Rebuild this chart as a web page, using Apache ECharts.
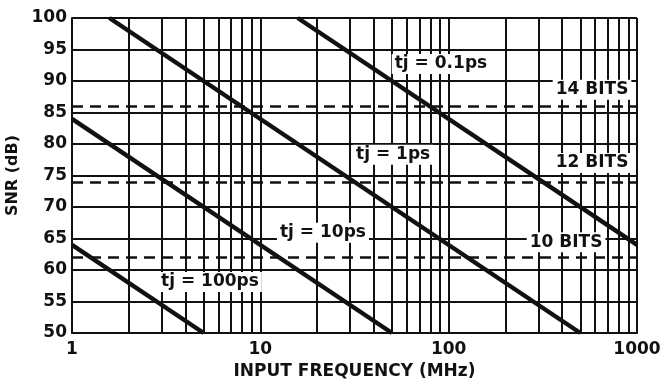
<!DOCTYPE html>
<html>
<head>
<meta charset="utf-8">
<script src="https://cdn.jsdelivr.net/npm/echarts@6/dist/echarts.min.js"></script>
<style>
  html, body { margin: 0; padding: 0; background: #fff; }
  #chart { width: 667px; height: 381px; }
</style>
</head>
<body>
<div id="chart"></div>
<script>
// Aperture-jitter SNR lines: [input frequency (MHz), SNR (dB)] end points
const jitter01ps = [[15.8, 100], [1000, 64]];
const jitter1ps = [[1.58, 100], [500, 50]];
const jitter10ps = [[1, 84], [50, 50]];
const jitter100ps = [[1, 64], [5, 50]];

// Ideal ADC resolution limits (dB)
const bitLevels = [86, 74, 62];

// Frequency axis tick labels, one per decade
const freqTickLabels = ['1', '10', '100', '1000'];

// Minor log grid positions (MHz)
const minorFreqs = [2, 3, 4, 5, 6, 7, 8, 9, 20, 30, 40, 50, 60, 70, 80, 90, 200, 300, 400, 500, 600, 700, 800, 900];

// Annotation texts and their anchor points [MHz, dB]
const noteTexts = ['tj = 0.1ps', 'tj = 1ps', 'tj = 10ps', 'tj = 100ps', '14 BITS', '12 BITS', '10 BITS'];
const noteFreqs = [91, 50.7, 21.5, 5.4, 577, 577, 420];
const noteSnrs = [92.7, 78.3, 65.9, 58.1, 88.6, 77.0, 64.4];

const FONT = 'DejaVu Sans';
const INK = '#111';

const chart = echarts.init(document.getElementById('chart'), null, { renderer: 'canvas' });

const thick = (data) => ({
  type: 'line',
  data: data,
  symbol: 'none',
  z: 5,
  lineStyle: { color: INK, width: 4.5 },
  silent: true
});

chart.setOption({
  animation: false,
  backgroundColor: '#fff',
  grid: { left: 72, right: 30, top: 18, bottom: 48, containLabel: false, outerBoundsMode: 'none' },
  xAxis: {
    type: 'log',
    logBase: 10,
    min: 1,
    max: 1000,
    name: 'INPUT FREQUENCY (MHz)',
    nameLocation: 'middle',
    nameGap: 27,
    nameTextStyle: { fontFamily: FONT, fontWeight: 'bold', fontSize: 17, color: INK },
    axisLine: { show: true, lineStyle: { color: INK, width: 2 } },
    axisTick: { show: false },
    axisLabel: {
      fontFamily: FONT, fontWeight: 'bold', fontSize: 17, color: INK, margin: 8,
      formatter: v => freqTickLabels[Math.round(Math.log10(v))]
    },
    splitLine: { show: true, lineStyle: { color: INK, width: 2 } },
    minorTick: { show: false },
    minorSplitLine: { show: false }
  },
  yAxis: {
    type: 'value',
    min: 50,
    max: 100,
    interval: 5,
    name: 'SNR (dB)',
    nameLocation: 'middle',
    nameGap: 50,
    nameTextStyle: { fontFamily: FONT, fontWeight: 'bold', fontSize: 16, color: INK },
    axisLine: { show: true, lineStyle: { color: INK, width: 2 } },
    axisTick: { show: false },
    axisLabel: { fontFamily: FONT, fontWeight: 'bold', fontSize: 17, color: INK, margin: 5 },
    splitLine: { show: true, lineStyle: { color: INK, width: 2 } }
  },
  series: [
    {
      // minor vertical grid and resolution limits
      type: 'line',
      data: [],
      silent: true,
      markLine: {
        silent: true,
        symbol: 'none',
        label: { show: false },
        animation: false,
        data: minorFreqs.map(f => ({ xAxis: f, lineStyle: { color: INK, width: 2, type: 'solid' } }))
          .concat(bitLevels.map(v => ({ yAxis: v, lineStyle: { color: INK, width: 2.5, type: [11, 7] } })))
      }
    },
    thick(jitter01ps),
    thick(jitter1ps),
    thick(jitter10ps),
    thick(jitter100ps),
    {
      type: 'scatter',
      z: 10,
      symbolSize: 0,
      silent: true,
      itemStyle: { opacity: 1 },
      data: noteTexts.map((t, i) => ({ value: [noteFreqs[i], noteSnrs[i]], name: t })),
      label: {
        show: true,
        position: 'inside',
        formatter: p => p.name,
        fontFamily: FONT,
        fontWeight: 'bold',
        fontSize: 17,
        color: INK,
        opacity: 1,
        backgroundColor: '#fff',
        padding: [2, 3, 1, 3]
      }
    }
  ]
});
</script>
</body>
</html>
